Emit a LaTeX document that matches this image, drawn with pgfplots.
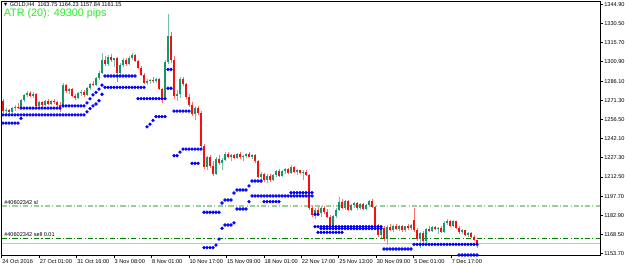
\documentclass[border=0pt]{standalone}
\usepackage{fontspec}
\setmainfont{Liberation Sans}
\usepackage{pgfplots}
\usepackage{pgfplotstable}
\pgfplotsset{compat=1.18}
\definecolor{bull}{RGB}{20,150,110}
\definecolor{bear}{RGB}{245,15,15}
\definecolor{atr}{RGB}{40,235,40}
\definecolor{slc}{RGB}{150,210,150}
\definecolor{sellc}{RGB}{0,130,0}
\definecolor{bidc}{RGB}{195,195,195}
\definecolor{dotc}{RGB}{0,0,255}
\newcommand{\mtfont}{\fontsize{4.2pt}{5pt}\selectfont}
\pgfplotstableread{
x o h l c
3 1270.5 1272.4 1261.6 1263.0
6 1263.0 1265.5 1261.0 1264.2
9 1264.2 1265.0 1260.5 1262.0
12 1262.0 1266.0 1261.5 1265.2
15 1265.2 1267.5 1263.5 1266.5
18 1266.5 1269.0 1264.8 1265.5
21 1265.5 1272.0 1265.0 1271.2
24 1271.2 1276.5 1270.0 1275.8
27 1275.8 1278.5 1273.5 1277.0
30 1277.0 1278.2 1273.8 1274.5
33 1274.5 1277.5 1273.0 1276.0
36 1276.0 1276.8 1266.0 1267.0
39 1267.0 1270.8 1265.2 1269.8
42 1269.8 1271.0 1266.5 1267.5
45 1267.5 1271.5 1266.8 1270.5
48 1270.5 1272.0 1268.0 1268.6
51 1268.6 1271.8 1267.5 1271.0
54 1271.0 1272.4 1268.8 1270.0
57 1270.0 1271.0 1266.5 1267.5
60 1267.5 1270.0 1262.5 1266.5
63 1266.5 1285.0 1265.5 1283.0
66 1283.0 1284.0 1277.0 1278.5
69 1278.5 1281.0 1276.0 1280.2
72 1280.2 1281.0 1273.5 1275.0
75 1275.0 1276.5 1271.5 1273.0
78 1273.0 1277.5 1272.0 1276.8
81 1276.8 1279.5 1275.0 1278.0
84 1278.0 1279.2 1273.5 1275.5
87 1275.5 1281.5 1274.8 1281.0
90 1281.0 1285.0 1279.5 1284.0
93 1284.0 1286.5 1282.0 1283.0
96 1283.0 1289.5 1282.5 1288.5
99 1288.5 1293.5 1287.0 1292.5
102 1292.5 1307.9 1291.5 1302.5
105 1302.5 1305.5 1298.0 1299.5
108 1299.5 1306.0 1297.5 1304.8
111 1304.8 1307.2 1300.5 1302.0
114 1302.0 1304.0 1297.0 1303.5
117 1303.5 1304.5 1285.4 1292.5
120 1292.5 1300.0 1291.0 1298.8
123 1298.8 1303.5 1297.0 1302.5
126 1302.5 1304.0 1298.0 1299.2
129 1299.2 1305.0 1298.5 1304.0
132 1304.0 1307.6 1302.5 1306.5
135 1306.0 1306.8 1300.5 1301.5
138 1301.5 1302.5 1295.5 1296.5
141 1296.5 1298.0 1290.0 1291.0
144 1291.0 1292.5 1284.0 1285.0
147 1285.0 1287.5 1283.0 1286.5
150 1286.5 1288.0 1284.0 1287.2
153 1287.2 1289.0 1285.0 1285.8
156 1285.8 1288.5 1284.5 1287.8
159 1287.8 1288.2 1279.0 1280.0
162 1280.0 1281.0 1269.3 1273.5
165 1273.5 1302.0 1271.5 1300.5
168 1300.5 1337.6 1299.0 1321.0
171 1321.0 1323.5 1300.0 1302.0
174 1302.0 1305.0 1272.5 1274.5
177 1274.5 1279.5 1271.0 1276.0
180 1276.0 1289.0 1273.0 1287.5
183 1287.5 1289.5 1282.5 1284.0
186 1284.0 1285.0 1272.0 1273.5
189 1273.5 1276.0 1266.0 1267.5
192 1267.5 1270.0 1259.0 1261.0
195 1261.0 1267.0 1256.0 1265.5
198 1265.5 1267.0 1260.0 1261.5
201 1261.5 1263.0 1235.0 1236.0
204 1236.0 1237.5 1218.5 1220.0
207 1220.0 1228.5 1218.0 1227.5
210 1227.5 1229.0 1219.5 1221.0
213 1221.0 1224.5 1213.5 1215.0
216 1215.0 1228.0 1214.0 1226.5
219 1226.5 1229.0 1222.0 1223.5
222 1223.5 1227.0 1217.5 1225.8
225 1225.8 1231.5 1224.5 1230.5
228 1230.5 1232.0 1227.0 1228.0
231 1228.0 1230.5 1225.0 1229.5
234 1229.5 1230.2 1226.0 1227.0
237 1227.0 1231.0 1226.0 1230.2
240 1230.2 1231.5 1226.5 1227.5
243 1227.5 1229.5 1224.5 1228.8
246 1228.8 1231.0 1227.0 1230.0
249 1230.0 1231.8 1227.5 1228.2
252 1228.2 1230.5 1226.5 1229.5
255 1229.5 1230.0 1223.5 1224.5
258 1224.5 1225.5 1211.5 1212.8
261 1212.8 1216.5 1207.5 1214.5
264 1214.5 1215.5 1208.5 1210.0
267 1210.0 1214.5 1208.0 1213.5
270 1213.5 1214.8 1209.0 1210.5
273 1210.5 1215.0 1209.5 1214.2
276 1214.2 1218.0 1212.5 1217.0
279 1217.0 1218.5 1212.5 1213.5
282 1213.5 1218.0 1212.8 1216.8
285 1216.8 1219.5 1215.0 1218.5
288 1218.5 1219.5 1214.5 1215.5
291 1215.5 1221.5 1214.5 1220.5
294 1220.5 1221.0 1215.5 1216.5
297 1216.5 1218.5 1214.0 1217.5
300 1217.5 1218.0 1214.5 1215.2
303 1215.2 1217.8 1210.5 1216.5
306 1216.5 1217.5 1213.0 1214.0
309 1214.0 1215.0 1187.5 1188.6
312 1188.6 1190.5 1181.5 1183.0
315 1183.0 1189.0 1180.5 1187.5
318 1187.5 1189.5 1183.0 1184.5
321 1184.5 1190.0 1182.0 1189.0
324 1189.0 1190.2 1184.0 1185.5
327 1185.5 1188.0 1181.0 1182.0
330 1182.0 1183.5 1172.5 1174.5
333 1174.5 1183.5 1173.0 1182.5
336 1182.5 1188.5 1181.0 1187.5
339 1187.5 1197.0 1186.0 1193.5
342 1193.5 1195.5 1188.0 1189.0
345 1189.0 1194.5 1187.5 1193.8
348 1193.8 1194.8 1186.0 1187.0
351 1187.0 1192.0 1186.0 1191.0
354 1191.0 1193.0 1189.0 1192.2
357 1192.2 1193.5 1187.5 1188.5
360 1188.5 1192.5 1187.5 1191.5
363 1191.5 1192.5 1187.0 1188.0
366 1188.0 1192.0 1187.0 1190.8
369 1190.8 1195.0 1189.5 1194.0
372 1194.0 1195.5 1188.5 1189.5
375 1189.5 1190.5 1174.0 1175.0
378 1175.0 1176.0 1166.5 1168.0
381 1168.0 1174.5 1166.0 1173.5
384 1173.5 1174.5 1163.0 1164.5
387 1164.5 1175.5 1160.5 1174.0
390 1174.0 1176.0 1171.0 1172.0
393 1172.0 1175.5 1170.5 1175.0
396 1175.0 1176.0 1171.5 1172.5
399 1172.5 1175.5 1171.0 1174.8
402 1174.8 1175.5 1170.5 1171.5
405 1171.5 1175.0 1170.5 1174.5
408 1174.5 1176.5 1172.0 1173.0
411 1173.0 1176.0 1172.0 1175.5
414 1179.5 1188.6 1170.5 1171.5
417 1171.5 1173.0 1163.0 1165.0
420 1165.0 1170.5 1158.0 1169.5
423 1169.5 1171.0 1161.5 1163.0
426 1163.0 1173.5 1162.0 1172.5
429 1172.5 1174.5 1170.0 1171.0
432 1171.0 1175.0 1170.5 1174.0
435 1174.0 1175.2 1171.5 1172.5
438 1172.5 1174.0 1168.5 1173.5
441 1173.5 1174.5 1169.5 1170.5
444 1170.5 1178.5 1169.8 1177.5
447 1177.5 1180.0 1175.5 1178.8
450 1178.8 1179.5 1174.0 1175.0
453 1175.0 1179.8 1174.0 1178.5
456 1178.5 1179.0 1172.5 1173.5
459 1173.5 1174.5 1169.0 1170.0
462 1170.0 1172.5 1168.5 1171.5
465 1171.5 1172.0 1167.0 1168.0
468 1168.0 1170.5 1166.5 1169.5
471 1169.5 1170.0 1165.5 1166.5
474 1166.5 1168.0 1163.0 1163.75
477 1163.75 1164.23 1157.84 1161.15
}\candles
\begin{document}
\begin{tikzpicture}
\useasboundingbox (-1.125pt,-9.375pt) rectangle (467.625pt,191.625pt);
\begin{axis}[
  scale only axis,
  width=448.875pt, height=190.5pt,
  xmin=1.5, xmax=600, ymin=1152.2, ymax=1347.2,
  axis line style={black, line width=0.6pt},
  tick align=outside,
  xtick pos=lower, ytick pos=right,
  yticklabel pos=right,
  major tick length=2.2pt,
  tick style={black, line width=0.5pt},
  xtick={1.7,39.15,76.6,114.05,151.5,188.95,226.4,263.85,301.3,338.75,376.2,413.65,451.1},
  xticklabels={24 Oct 2016,27 Oct 01:00,31 Oct 16:00,3 Nov 08:00,8 Nov 01:00,10 Nov 17:00,15 Nov 09:00,18 Nov 01:00,22 Nov 17:00,25 Nov 13:00,30 Nov 09:00,5 Dec 01:00,7 Dec 17:00},
  xticklabel style={font=\mtfont, anchor=north west, inner sep=0pt, xshift=0.3pt, yshift=-1.0pt},
  ytick={1153.7,1168.5,1182.9,1197.7,1212.5,1227.3,1242.1,1256.5,1271.3,1286.1,1300.9,1315.7,1330.5,1344.9},
  yticklabels={1153.70,1168.50,1182.90,1197.70,1212.50,1227.30,1242.10,1256.50,1271.30,1286.10,1300.90,1315.70,1330.50,1344.90},
  yticklabel style={font=\mtfont, anchor=west, inner sep=0pt, xshift=0.8pt},
  clip=true,
  candle/.style={draw=none, mark=none, forget plot, error bars/.cd, y dir=plus, y explicit, error mark=none},
]
% horizontal lines
\addplot[bidc, line width=0.75pt, forget plot] coordinates {(1.5,1161.15) (600,1161.15)};
\addplot[slc, line width=0.8pt, dash pattern=on 4pt off 1.6pt on 0.9pt off 1.6pt, forget plot] coordinates {(1.5,1190.2) (600,1190.2)};
\addplot[sellc, line width=0.75pt, dash pattern=on 4pt off 1.6pt on 0.9pt off 1.6pt, forget plot] coordinates {(1.5,1165.6) (600,1165.6)};
% bull wicks and bodies
\addplot[restrict expr to domain={\thisrow{c}-\thisrow{o}}{0:1000}, candle,
  error bar style={draw=bull!60, line width=0.5pt}]
  table[x=x, y=l, y error expr=\thisrow{h}-\thisrow{l}] {\candles};
\addplot[restrict expr to domain={\thisrow{c}-\thisrow{o}}{0:1000}, candle,
  error bar style={draw=bull, line width=1.5pt}]
  table[x=x, y=o, y error expr=\thisrow{c}-\thisrow{o}] {\candles};
% bear wicks and bodies
\addplot[restrict expr to domain={\thisrow{c}-\thisrow{o}}{-1000:-0.001}, candle,
  error bar style={draw=bear!60, line width=0.5pt}]
  table[x=x, y=l, y error expr=\thisrow{h}-\thisrow{l}] {\candles};
\addplot[restrict expr to domain={\thisrow{c}-\thisrow{o}}{-1000:-0.001}, candle,
  error bar style={draw=bear, line width=1.5pt}]
  table[x=x, y=c, y error expr=\thisrow{o}-\thisrow{c}] {\candles};
% trailing stop dots
\addplot[only marks, mark=*, mark size=1.05pt, dotc, mark options={draw=dotc, fill=dotc}, forget plot] coordinates {
(3,1253.9)(6,1253.9)(9,1253.9)(12,1253.9)(15,1253.9)(18,1253.9)(21,1257.5)
(3,1260.1)(6,1260.1)(9,1260.1)(12,1260.1)(15,1260.1)(18,1260.1)(21,1260.1)(24,1260.1)(27,1260.1)(30,1260.1)(33,1260.1)(36,1260.1)(39,1260.1)(42,1260.1)(45,1260.1)(48,1260.1)(51,1260.1)(54,1260.1)(57,1260.1)(60,1260.1)(63,1260.1)(66,1260.1)(69,1260.1)(72,1260.1)(75,1260.1)(78,1260.1)(81,1260.1)(84,1260.1)
(21,1265.4)(24,1265.4)(27,1265.4)(30,1265.4)(33,1265.4)(36,1265.4)(39,1265.4)(42,1265.4)(45,1265.4)(48,1265.4)(51,1265.4)(54,1265.4)(57,1265.4)(60,1265.4)
(63,1267.0)(66,1267.0)(69,1267.0)(72,1267.0)(75,1267.0)(78,1267.0)(81,1267.0)(84,1267.0)
(87,1269.3)(90,1272.5)(93,1275.5)(96,1277.5)(99,1280.0)(102,1283.0)
(105,1290.0)(108,1290.0)(111,1290.0)(114,1290.0)(117,1290.0)(120,1290.0)(123,1290.0)(126,1290.0)(129,1290.0)(132,1290.0)(135,1290.0)
(87,1262.5)(90,1265.0)(93,1267.0)(96,1268.5)(99,1271.0)(102,1276.0)
(105,1281.3)(108,1281.3)(111,1281.3)(114,1281.3)(117,1281.3)(120,1281.3)(123,1281.3)(126,1281.3)(129,1281.3)(132,1281.3)(135,1281.3)(138,1281.3)(141,1281.3)(144,1281.3)
(138,1272.6)(141,1272.6)(144,1272.6)(147,1272.6)(150,1272.6)(153,1272.6)(156,1272.6)(159,1272.6)(162,1272.6)(165,1272.6)
(147,1251.0)(150,1253.0)(153,1256.0)(156,1258.8)(159,1258.8)(162,1258.8)(165,1258.8)
(168,1295.1)(171,1295.1)
(168,1280.6)(171,1280.6)
(174,1263.1)(177,1263.1)(180,1263.1)(183,1263.1)(186,1263.1)(189,1263.1)
(174,1228.8)(177,1228.8)(180,1231.6)(183,1233.9)(186,1233.9)(189,1233.9)(192,1233.9)(195,1233.9)(198,1233.9)(201,1233.9)
(192,1223.0)(195,1223.0)(198,1223.0)
(204,1185.4)(207,1185.4)(210,1185.4)(213,1185.4)(216,1185.4)(219,1185.4)
(204,1158.2)(207,1158.2)(210,1158.2)(213,1158.2)(216,1160.2)(219,1164.8)
(222,1192.5)(225,1194.8)(228,1194.8)(231,1194.8)(234,1200.2)(237,1202.5)(240,1202.5)(243,1202.5)(246,1202.5)(249,1205.6)(252,1209.4)(255,1209.4)(258,1209.4)(261,1209.4)
(222,1173.1)(225,1175.6)(228,1175.6)(231,1175.6)(234,1177.3)(237,1187.9)(240,1187.9)(243,1187.9)(246,1187.9)(249,1193.5)
(252,1197.9)(255,1197.9)(258,1197.9)(261,1197.9)(264,1197.9)(267,1197.9)(270,1197.9)(273,1197.9)(276,1197.9)(279,1197.9)(282,1197.9)(285,1197.9)(288,1197.9)(291,1197.9)(294,1197.9)(297,1197.9)(300,1197.9)(303,1197.9)(306,1197.9)(309,1197.9)(312,1197.9)
(264,1193.5)(267,1193.5)(270,1193.5)(273,1193.5)(276,1193.5)(279,1193.5)
(291,1200.4)(294,1200.4)(297,1200.4)(300,1200.4)(303,1200.4)(306,1200.4)(309,1200.4)(312,1200.4)
(315,1183.8)(318,1183.8)
(315,1174.3)(318,1174.3)(321,1174.3)(324,1174.3)(327,1174.3)(330,1174.3)(333,1174.3)(336,1174.3)(339,1174.3)(342,1174.3)(345,1174.3)(348,1174.3)(351,1174.3)(354,1174.3)(357,1174.3)(360,1174.3)(363,1174.3)(366,1174.3)(369,1174.3)(372,1174.3)(375,1174.3)(378,1174.3)(381,1174.3)
(321,1172.9)(324,1172.9)(327,1172.9)(330,1172.9)(333,1172.9)(336,1172.9)(339,1172.9)(342,1172.9)(345,1172.9)(348,1172.9)(351,1172.9)(354,1172.9)(357,1172.9)(360,1172.9)(363,1172.9)(366,1172.9)(369,1172.9)(372,1172.9)(375,1172.9)(378,1172.9)(381,1172.9)
(318,1170.0)(321,1170.0)(324,1170.0)(327,1170.0)(330,1170.0)(333,1170.0)(336,1170.0)(339,1170.0)(342,1170.0)
(384,1157.2)(387,1157.2)(390,1157.2)(393,1157.2)(396,1157.2)(399,1157.2)(402,1157.2)(405,1157.2)(408,1157.2)(411,1157.2)
(414,1160.8)(417,1160.8)(420,1160.8)(423,1160.8)(426,1160.8)(429,1160.8)(432,1160.8)(435,1160.8)(438,1160.8)(441,1160.8)(444,1160.8)(447,1160.8)(450,1160.8)(453,1160.8)(456,1160.8)(459,1160.8)(462,1160.8)(465,1160.8)(468,1160.8)(471,1160.8)(474,1160.8)(477,1160.8)
(459,1152.6)(462,1152.6)(465,1152.6)(468,1152.6)(471,1152.6)(474,1152.6)(477,1152.6)
};
% texts
\node[anchor=west, inner sep=0pt, font=\mtfont] at (axis cs:2.5,1344.3) {▼ GOLD,H4\ \ 1163.75 1164.23 1157.84 1161.15};
\node[anchor=west, inner sep=0pt, font=\fontsize{8.1pt}{9pt}\selectfont, text=atr] at (axis cs:3.5,1337.6) {ATR (20): 49300 pips};
\node[anchor=south west, inner sep=0pt, font=\mtfont] at (axis cs:4,1191.0) {\#40602342 sl};
\node[anchor=south west, inner sep=0pt, font=\mtfont] at (axis cs:4,1166.4) {\#40602342 sell 0.01};
\node[anchor=west, fill=black, text=white, inner xsep=0.8pt, inner ysep=0pt, minimum height=6.2pt, font=\mtfont] at (axis cs:600.5,1161.15) {1161.15};
\end{axis}
\end{tikzpicture}
\end{document}
